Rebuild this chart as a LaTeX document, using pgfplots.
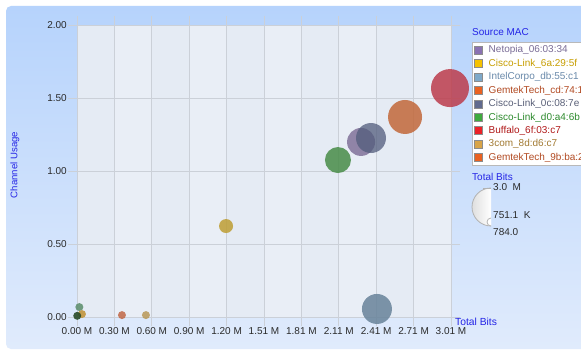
\documentclass[border=0pt]{standalone}
\usepackage{fontspec}
\setmainfont{Liberation Sans}
\usepackage{pgfplots}
\pgfplotsset{compat=1.18}
\definecolor{bgtop}{HTML}{B6D3FC}
\definecolor{bgbot}{HTML}{E0EBFC}
\definecolor{plotA}{HTML}{E5EBF4}
\definecolor{plotB}{HTML}{E9EEF6}
\definecolor{gridc}{HTML}{CBD0D8}
\definecolor{labblue}{HTML}{2424E6}
\definecolor{tickc}{HTML}{2A2A2A}
% legend colours
\definecolor{lNet}{HTML}{8A72B2}
\definecolor{lC6a}{HTML}{F6C200}
\definecolor{lInt}{HTML}{7EA9C9}
\definecolor{lGcd}{HTML}{EA6222}
\definecolor{lC0c}{HTML}{606A8E}
\definecolor{lCd0}{HTML}{3EAA3E}
\definecolor{lBuf}{HTML}{EC2228}
\definecolor{l3c}{HTML}{D8A448}
\definecolor{lG9b}{HTML}{EA6222}
% legend text colours
\definecolor{tNet}{HTML}{7A6C96}
\definecolor{tC6a}{HTML}{C79E00}
\definecolor{tInt}{HTML}{6A8AAA}
\definecolor{tGcd}{HTML}{B24A22}
\definecolor{tC0c}{HTML}{5A6078}
\definecolor{tCd0}{HTML}{2C8A2C}
\definecolor{tBuf}{HTML}{B01818}
\definecolor{t3c}{HTML}{A27A32}
\definecolor{tG9b}{HTML}{B24A22}
% bubble colours
\definecolor{bBuf}{HTML}{BC3C4C}
\definecolor{bGcd}{HTML}{C2683A}
\definecolor{bNet}{HTML}{7A6A94}
\definecolor{bC0c}{HTML}{525C7C}
\definecolor{bCd0}{HTML}{488C48}
\definecolor{bInt}{HTML}{68839A}
\definecolor{bC6a}{HTML}{BE9E34}
\definecolor{bG9b}{HTML}{C06846}
\definecolor{b3c}{HTML}{B89858}
\definecolor{bGrn}{HTML}{5A8C6A}
\definecolor{bYel}{HTML}{C09030}
\definecolor{bDk}{HTML}{284A28}
\pgfplotsset{
  bub/.style 2 args={forget plot, only marks, mark=*, draw=none,
    mark options={draw=none, draw opacity=0, fill=#1, fill opacity=#2}},
  sq/.style={legend image code/.code={%
    \draw[draw=black!45, fill=#1] (0pt,-4pt) rectangle (8pt,4pt);
    \path[draw=none, fill=none] (0pt,0pt) rectangle (12pt,0.1pt);}}
}
\begin{document}
\begin{tikzpicture}[x=1pt,y=1pt]
\useasboundingbox (0,0) rectangle (581,351);
\clip (0,0) rectangle (581,351);
\fill[white] (0,0) rectangle (581,351);
\shade[top color=bgtop, bottom color=bgbot, rounded corners=5pt] (6,2) rectangle (600,345);
% plot-area background with subtle column stripes (under the grid)
\fill[plotB] (77,34) rectangle (451,326);
\fill[plotA] (77,34) rectangle (114.4,326);
\fill[plotA] (151.8,34) rectangle (189.2,326);
\fill[plotA] (226.6,34) rectangle (264,326);
\fill[plotA] (301.4,34) rectangle (338.8,326);
\fill[plotA] (376.2,34) rectangle (413.6,326);
\begin{axis}[
  scale only axis, width=374pt, height=292pt,
  at={(77pt,34pt)}, anchor=south west,
  xmin=0, xmax=3.0111, ymin=0, ymax=2,
  xtick={0,0.30111,0.60222,0.90333,1.20444,1.50555,1.80666,2.10777,2.40888,2.70999,3.0111},
  xticklabels={0.00 M,0.30 M,0.60 M,0.90 M,1.20 M,1.51 M,1.81 M,2.11 M,2.41 M,2.71 M,3.01 M},
  ytick={0,0.5,1,1.5,2},
  yticklabels={0.00,0.50,1.00,1.50,2.00},
  tick align=outside, major tick length=9pt,
  tick style={draw=gridc, line width=0.8pt},
  grid=major, major grid style={draw=gridc, line width=0.8pt},
  axis line style={draw=gridc, line width=0.8pt},
  ticklabel style={font=\fontsize{10}{12}\selectfont, text=tickc},
  xticklabel style={inner sep=1pt},
  yticklabel style={inner sep=1pt},
  /pgf/number format/assume math mode=true,
  clip marker paths=false, clip=false,
  legend style={at={(1.0561,0.9418)}, anchor=north west, draw=gray!55, fill=white,
    font=\fontsize{10}{12}\selectfont, inner xsep=2pt, inner ysep=1pt,
    nodes={inner sep=2.35pt}},
  legend cell align=left,
]
\addlegendimage{sq=lNet}
\addlegendentry{\textcolor{tNet}{Netopia\_06:03:34}}
\addlegendimage{sq=lC6a}
\addlegendentry{\textcolor{tC6a}{Cisco-Link\_6a:29:5f}}
\addlegendimage{sq=lInt}
\addlegendentry{\textcolor{tInt}{IntelCorpo\_db:55:c1}}
\addlegendimage{sq=lGcd}
\addlegendentry{\textcolor{tGcd}{GemtekTech\_cd:74:1a}}
\addlegendimage{sq=lC0c}
\addlegendentry{\textcolor{tC0c}{Cisco-Link\_0c:08:7e}}
\addlegendimage{sq=lCd0}
\addlegendentry{\textcolor{tCd0}{Cisco-Link\_d0:a4:6b}}
\addlegendimage{sq=lBuf}
\addlegendentry{\textcolor{tBuf}{Buffalo\_6f:03:c7}}
\addlegendimage{sq=l3c}
\addlegendentry{\textcolor{t3c}{3com\_8d:d6:c7}}
\addlegendimage{sq=lG9b}
\addlegendentry{\textcolor{tG9b}{GemtekTech\_9b:ba:21}}
% bubbles
\addplot[bub={bBuf}{0.85}, mark size=19pt] coordinates {(3.003,1.568)};
\addplot[bub={bGcd}{0.85}, mark size=17pt] coordinates {(2.641,1.370)};
\addplot[bub={bNet}{0.8}, mark size=14pt] coordinates {(2.287,1.199)};
\addplot[bub={bC0c}{0.75}, mark size=15pt] coordinates {(2.367,1.226)};
\addplot[bub={bCd0}{0.85}, mark size=13pt] coordinates {(2.101,1.075)};
\addplot[bub={bInt}{0.85}, mark size=15pt] coordinates {(2.415,0.055)};
\addplot[bub={bC6a}{0.85}, mark size=7pt] coordinates {(1.200,0.623)};
\addplot[bub={bG9b}{0.85}, mark size=4pt] coordinates {(0.362,0.013)};
\addplot[bub={b3c}{0.85}, mark size=4pt] coordinates {(0.555,0.013)};
\addplot[bub={bGrn}{0.85}, mark size=4pt] coordinates {(0.019,0.068)};
\addplot[bub={bYel}{0.85}, mark size=4pt] coordinates {(0.040,0.020)};
\addplot[bub={bDk}{0.9}, mark size=4pt] coordinates {(0.002,0.008)};
\end{axis}
% labels
\node[rotate=90, text=labblue, font=\fontsize{9.6}{11}\selectfont] at (15,186) {Channel Usage};
\node[anchor=west, text=labblue, font=\fontsize{10.3}{12}\selectfont, inner sep=0pt] at (455,29) {Total Bits};
\node[anchor=west, text=labblue, font=\fontsize{10}{12}\selectfont, inner sep=0pt] at (472,319) {Source MAC};
% size legend
\node[anchor=west, text=labblue, font=\fontsize{10}{12}\selectfont, inner sep=0pt] at (472,174) {Total Bits};
\shade[left color=gray!25, right color=white] (491,163) arc[start angle=90, end angle=270, radius=19] -- cycle;
\draw[gray!60, line width=0.8pt] (491,163) arc[start angle=90, end angle=270, radius=19];
\draw[gray!60, line width=0.8pt, fill=white] (491,133) arc[start angle=90, end angle=270, radius=4];
\draw[gray!60, line width=0.8pt] (483,163) -- (491,163);
\node[anchor=west, font=\fontsize{10}{12}\selectfont, text=tickc, inner sep=0pt] at (493,164) {3.0\ \ M};
\node[anchor=west, font=\fontsize{10}{12}\selectfont, text=tickc, inner sep=0pt] at (493,136) {751.1\ \ K};
\node[anchor=west, font=\fontsize{10}{12}\selectfont, text=tickc, inner sep=0pt] at (493,119) {784.0};
\end{tikzpicture}
\end{document}
